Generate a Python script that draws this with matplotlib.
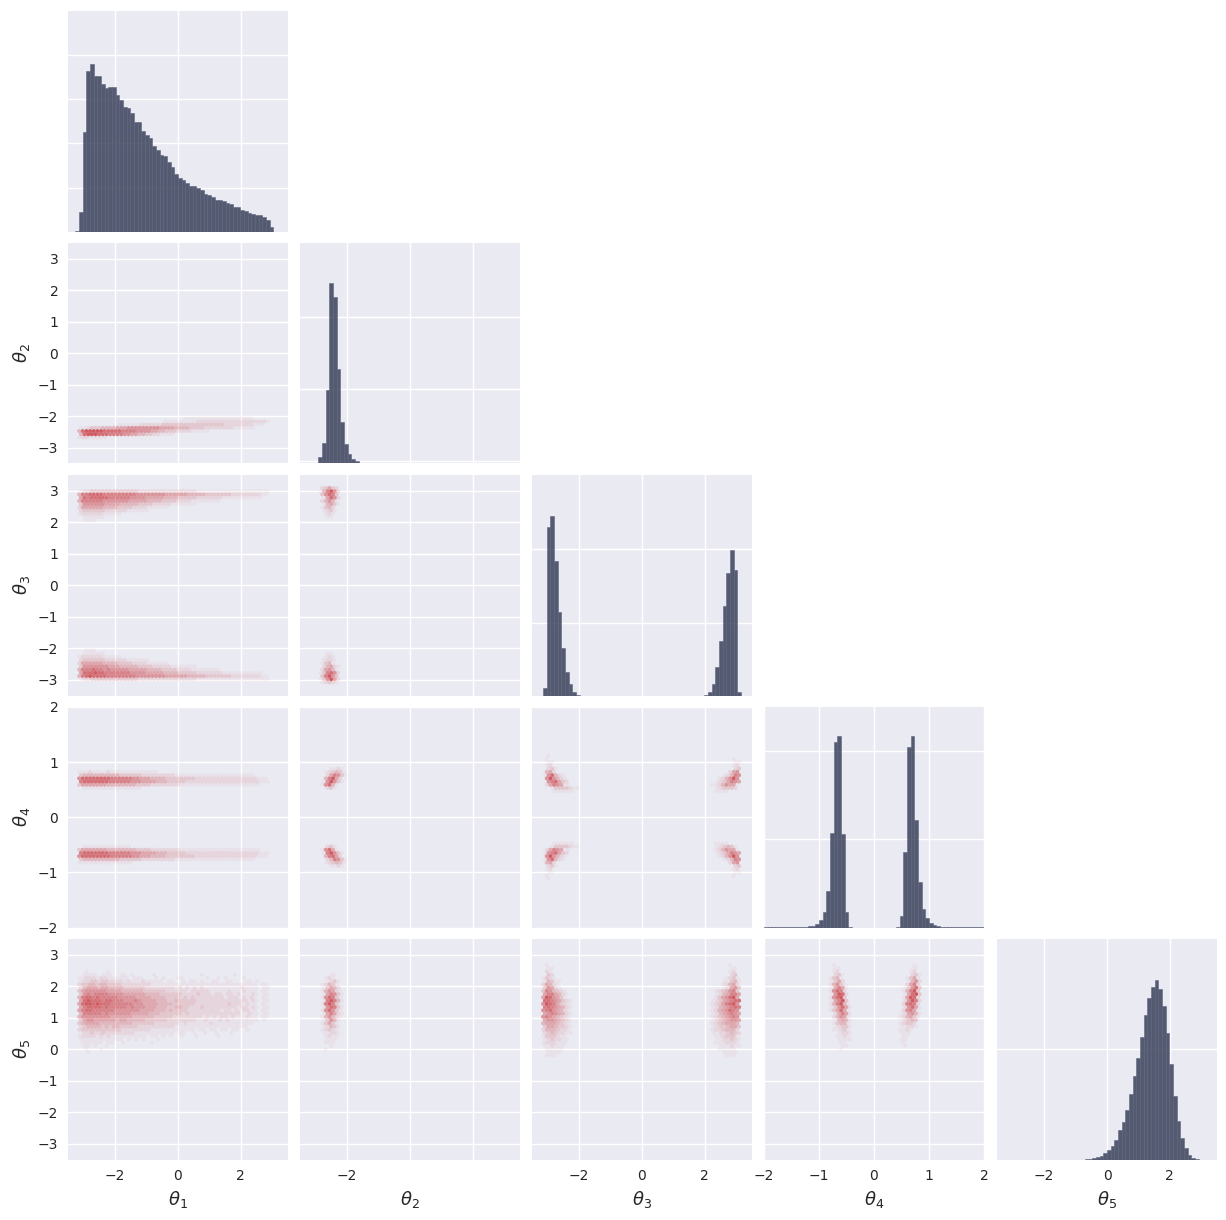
import numpy as np
import matplotlib
matplotlib.use("Agg")
import matplotlib.pyplot as plt
from matplotlib.colors import LinearSegmentedColormap, PowerNorm

LABELS = [r"$\theta_1$", r"$\theta_2$", r"$\theta_3$", r"$\theta_4$", r"$\theta_5$"]
LIMS = [3.5, 3.5, 3.5, 2.0, 3.5]
TICKS = [[-2, 0, 2], [-2, 0, 2], [-2, 0, 2], [-2, -1, 0, 1, 2], [-2, 0, 2]]
YTICKS = [[], [-3, -2, -1, 0, 1, 2, 3], [-3, -2, -1, 0, 1, 2, 3], [-2, -1, 0, 1, 2], [-3, -2, -1, 0, 1, 2, 3]]
DIAG_GRID = [[44, 89, 133, 177], [2, 74, 146], [73, 147], [89, 177], [111]]

# histogram heights: (first bin index, heights)
HIST1 = (2, [0.7, 19.7, 99.7, 160.7, 167.7, 155.7, 155.7, 147.7, 143.7, 144.7, 144.7, 136.7, 131.7, 124.7,
             123.7, 118.7, 109.7, 109.7, 100.7, 96.7, 93.7, 85.7, 81.7, 76.7, 75.7, 69.7, 64.7, 57.7, 53.7,
             51.7, 48.7, 45.7, 45.7, 43.7, 41.7, 37.7, 36.7, 34.7, 31.7, 31.7, 30.7, 28.7, 27.7, 24.7, 24.7,
             21.7, 20.7, 18.7, 17.7, 16.7, 16.7, 14.7, 11.7, 4.7])
HIST2 = (4, [0.7, 6.3, 20.3, 73, 181, 167, 95, 41, 19, 9, 4, 2.5, 0.7, 0.7, 0.7])
HIST3A = (3, [7.7, 168.7, 179.7, 134.7, 83.7, 47.7, 23.7, 11.7, 3.7, 0.7])
HIST3B = (47, [0.7, 3.7, 11.7, 28.7, 54.7, 89.7, 122.7, 145.7, 125.7, 3.7])
HIST4A = (0, [0.7] * 11 + [1, 2, 2, 4, 8, 16, 37, 95, 186, 192, 94, 16, 0.7])
HIST4B = (36, [0.7, 12, 76, 181, 192, 108, 46, 19, 10, 5, 3, 2, 1] + [0.7] * 11)
HIST5 = (24, [0.5, 0.5, 1.3, 2.7, 3.7, 6.7, 9.7, 13.7, 19.7, 29.7, 37.7, 49.7, 65.7, 83.7, 101.7, 122.7,
              144.7, 161.7, 172.7, 179.7, 170.7, 153.7, 126.7, 95.7, 63.7, 38.7, 21.7, 11.7, 4.7, 1.7, 0.5])

# hexbin densities on a 0-9 scale: (first hex row, first column, strings of cells, row descending)
H12 = (14, 3, [
    "0000000000000000000000000000011111111111111111110000",
    "0000000000000000000000011111111122222222222222222221",
    "0000000000011111122222233333333333333333222222221110",
    "1123334444555666666666555544443333222222221111110000",
    "489999988888777766665544333222211111000000",
    "48999888777766554433221111000000",
    "1221111100000000000"])
H13A = (63, 3, [
    "1223333333333333222222222222222211111111111111111111",
    "4778888777777777666666665555554444433333332222222211",
    "5878888877777766665555544443333322222221111111111100",
    "4777777666666655555444433332222111111110000",
    "3666666555544444333322222111111100000",
    "2555555444433332222111111000",
    "2333333222222111111000",
    "1222222111110000",
    "011111100",
    "0011100"])
H13B = (14, 3, [
    "0011100",
    "011111100",
    "1222222111110000",
    "2333333222222111111000",
    "2555555444433332222111111000",
    "3666666655544444333322222111111100000",
    "4777877676666655555444433332222111111110000",
    "5888988777777766665555544443333322222221111111111100",
    "4789888877777777666666665555554444433333332222222211",
    "1223333333333333222222222222222211111111111111111111"])
H14A = (48, 3, [
    "1112111121111111111111000000",
    "3444444444433333322222222211111111111111111111110000",
    "6888888887777776655544443333333322222222222222222111",
    "7888888877777766655554443333322222222222222222222111",
    "3555555544444444333322222222111111111111111111111100",
    "0111111111111111100000"])
H14B = (25, 3, [
    "0111111111111100000",
    "3555555544444444333322222222111111111111111111111100",
    "7888888877777766655554443333322222222222222222222111",
    "6888888887777776655544443333333322222222222222222111",
    "3444444444433333322222222211111111111111111111110000",
    "1111111111111110000"])
H15 = (58, 3, [
    "00100000100000000000000000000000000000000000000000",
    "01111011100110100000100000000000010000000010000000",
    "11222122111111011100010100011000000100101000010000",
    "12233233222212111211111011001011010011001100011010",
    "2334434433332222222211111111111111111111111111111011",
    "2455545544443333332222222212121212111111111121111011",
    "3566666655554444443333332222221222221111121112111011",
    "3676777766665555554444333333222232221221221211121011",
    "4788787777766666555544443333232322222222122212121011",
    "5898887887776667655554443343333322222222222222121011",
    "5899898887777776665555444433333322222222232221211011",
    "5788887877777676665554443344332223222222222122121011",
    "5788777777666666655554443433332222222221221212211011",
    "4777776766666655555444333333232222222222222211211011",
    "4666666665555554444443333322222222121212212111211011",
    "3566555555455444443333332222222211211121211111111010",
    "34555544444444433333322222221211111121111111111100",
    "23444434344333332222222222111111111111111111110000",
    "23333333333322222222111111111111011011011011001000",
    "12232232222222211111111111011001001001000100000000",
    "12222121211111111110110101001000100000100000000000",
    "11111111111101010100010000000000000000000000000000",
    "01111110110010000000100000000000000000000000000000",
    "01101001000000000000000000000000000000000000000000",
    "00100010000000000000000000000000000000000000000000",
    "00100000000000000000000000000000000000000000000000"])
H23A = (64, 4, ["00235320", "01479620", "00368730", "00158620", "00246410",
                "00145310", "00134200", "00123100", "00012100", "00011000"])
H23B = (13, 4, ["00011000", "00012100", "00122100", "00134100", "00245210",
                "00256410", "01378620", "00379630", "01369520", "00123210"])
H24A = (49, 5, ["00011210", "00123431", "00257631", "00479520", "01696310", "01684100", "00231000"])
H24B = (25, 5, ["00231000", "01685100", "01796310", "00478520", "00247631", "00123431", "00011210"])
H25 = (57, 5, ["0001100", "0012100", "0012310", "0124310", "0135420", "0146521", "0157631", "0168731",
               "0179741", "0179731", "0168731", "0168631", "0157521", "0146421", "0136410", "0135310",
               "0124310", "0123210", "0112210", "0012110", "0011100", "0011100", "0001000", "0010000"])
H34A = (53, 3, ["0100", "0100", "0110", "0120", "02310", "04520", "16842100", "06964210", "06785320",
                "0257651100", "001333321100", "00011111100"])
H34B = (26, 3, ["00011111100", "001333321100", "0257651100", "16785320", "06964210", "16842100",
                "04520", "02310", "0120", "0110", "0100", "0100"])
H34C = (52, 48, ["0000000100", "0000000110", "0000000120", "0000000230", "0000002560", "0000124760",
                 "0001246960", "0012357650", "0112465510", "0012333200", "0011110000"])
H34D = (26, 48, ["0011110000", "0012343100", "0012465510", "0012357650", "0001246960", "0000124760",
                 "0000002560", "0000000230", "0000000120", "0000000110", "0000000100"])
H35A = (60, 3, ["01000", "01100", "02100", "03200", "13210", "14311", "25421", "36521",
                "37643210", "57754210", "59865310", "88765321", "69875321", "78765421", "67865421",
                "56765421", "67654321", "56654321", "45554321", "35543321", "24443221", "23432211",
                "13332110", "12322110", "12221110", "11211100", "01111100", "01111000", "01110000"])
H35B = (60, 49, ["00000100", "00000110", "00000120", "00000230", "00001231", "00011341", "00012452",
                 "00012563", "01234673", "01245775", "01356895", "12356788", "12357896", "12456787",
                 "12456876", "12456765", "12345676", "12345665", "12345554", "12334553", "12234442",
                 "11223432", "01123331", "01122321", "01112221", "00111211", "00111110", "00011110",
                 "00001110"])
H45A = (60, 16, ["000100000", "000110000", "000120000", "000231000", "001341000", "001352000", "001463100",
                 "001575100", "001687200", "001698200", "001689300", "001579300", "001479410", "001368510",
                 "001358510", "000257510", "000246510", "000145410", "000134410", "000123310", "000112310",
                 "000012210", "000011210", "000011110", "000001100", "000001100", "000001000"])
H45B = (60, 36, ["000001000", "000011000", "000012000", "000023100", "000135100", "000146200", "000257200",
                 "001368300", "001479300", "001589300", "001598200", "002697200", "002787200", "002685100",
                 "002675100", "012564100", "012453100", "012343000", "012332000", "011221000", "011210000",
                 "011100000", "001100000", "011000000", "001000000", "001000000"])

HEXES = {(1, 0): [H12], (2, 0): [H13A, H13B], (3, 0): [H14A, H14B], (4, 0): [H15],
         (2, 1): [H23A, H23B], (3, 1): [H24A, H24B], (4, 1): [H25],
         (3, 2): [H34A, H34B, H34C, H34D], (4, 2): [H35A, H35B], (4, 3): [H45A, H45B]}
HISTS = [[HIST1], [HIST2], [HIST3A, HIST3B], [HIST4A, HIST4B], [HIST5]]

NX, NY = 60, 34
W, H = 1226, 1220
LEFTS = [68, 300, 532, 764, 997]
TOPS = [11, 243, 475, 707, 939]
SIZE = 220.5

cmap = LinearSegmentedColormap.from_list(
    "hexred", [(200 / 255, 45 / 255, 50 / 255, 0.0), (200 / 255, 45 / 255, 50 / 255, 0.76)])
norm = PowerNorm(1.3, vmin=0, vmax=9)
BG, GRID, TXT = "#EAEAF2", "white", "#262626"


def cells(table, xl, yl):
    """Data positions of the table's cells on the hexbin lattice."""
    r0, c0, rows = table
    sx, sy = 2 * xl / NX, 2 * yl / NY
    xs, ys, cs = [], [], []
    for k, row in enumerate(rows):
        r = r0 - k
        for j, ch in enumerate(row):
            if ch != "0":
                xs.append(-xl + (c0 + j + 0.5 * (r % 2)) * sx)
                ys.append(-yl + r * sy / 2)
                cs.append(int(ch))
    return xs, ys, cs


fig = plt.figure(figsize=(W / 100, H / 100), dpi=100)
fig.patch.set_facecolor("white")
for row in range(5):
    for col in range(row + 1):
        ax = fig.add_axes([LEFTS[col] / W, 1 - (TOPS[row] + SIZE) / H, 220 / W, SIZE / H], facecolor=BG)
        ax.set_axisbelow(True)
        for s in ax.spines.values():
            s.set_visible(False)
        ax.grid(True, color=GRID, lw=1)
        xl = LIMS[col]
        ax.set_xticks(TICKS[col])
        if row == col:
            edges = np.linspace(-xl, xl, NX + 1)
            heights = np.zeros(NX)
            for first, vals in HISTS[col]:
                heights[first:first + len(vals)] = vals
            ax.hist(edges[:-1] + (edges[1] - edges[0]) / 2, bins=edges, weights=heights,
                    color="#2f3650", alpha=0.8, edgecolor="#5f6680", linewidth=0.5)
            ax.set_ylim(0, 220.5)
            ax.set_yticks(DIAG_GRID[col])
            ax.tick_params(labelleft=False)
        else:
            yl = LIMS[row]
            xs, ys, cs = [], [], []
            for table in HEXES[(row, col)]:
                a, b, c = cells(table, xl, yl)
                xs += a
                ys += b
                cs += c
            ax.hexbin(xs, ys, C=cs, gridsize=(NX, NY), extent=(-xl, xl, -yl, yl),
                      reduce_C_function=np.max, cmap=cmap, norm=norm, linewidths=0)
            ax.set_ylim(-yl, yl)
            ax.set_yticks(YTICKS[row])
        ax.set_xlim(-xl, xl)
        ax.tick_params(length=0, labelsize=10, labelcolor=TXT, pad=7)
        if row < 4:
            ax.tick_params(labelbottom=False)
        else:
            labels = [str(t).replace("-", "\u2212") for t in TICKS[col]]
            if col == 1:
                labels = [labels[0], "", ""]
            ax.set_xticklabels(labels)
            ax.set_xlabel(LABELS[col], fontsize=13, color=TXT, labelpad=4)
        if col > 0:
            ax.tick_params(labelleft=False)
        elif row > 0:
            ax.set_ylabel(LABELS[row], fontsize=13, color=TXT, labelpad=4)

fig.savefig("out.png", dpi=100)
